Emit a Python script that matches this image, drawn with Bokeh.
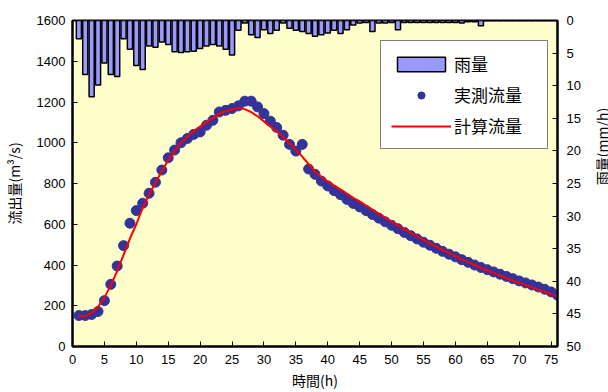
import math
from bokeh.plotting import figure
from bokeh.layouts import row
from bokeh.models import Range1d, LinearAxis, FixedTicker, Legend, LegendItem, Label
from bokeh.embed import file_html
from bokeh.resources import INLINE

hours = list(range(1, 77))
rain = [2.8, 8.3, 11.7, 9.9, 6.5, 8.3, 8.6, 2.8, 4.4, 6.9,
        7.5, 3.9, 4.1, 3.3, 3.7, 4.8, 4.9, 4.8, 4.7, 4.3,
        3.9, 3.7, 3.9, 4.4, 5.3, 1.5, 0.4, 2.2, 2.6, 1.4,
        2.0, 1.5, 0.4, 1.2, 1.5, 1.7, 2.0, 2.4, 2.2, 1.9,
        1.5, 2.0, 1.4, 0.7, 0.4, 0.3, 1.7, 0.4, 0.4, 0.3,
        1.4, 0.3, 0.3, 0.3, 0.3, 0.3, 0.3, 0.3, 0.3, 0.3,
        0.4, 0.2, 0.2, 0.8, 0.0, 0.0, 0.0, 0.0, 0.0, 0.0,
        0.0, 0.0, 0.0, 0.0, 0.0, 0.0]
observed = [152, 152, 157, 172, 225, 305, 395, 495, 605, 667,
            703, 752, 806, 866, 926, 964, 1000, 1021, 1041, 1053,
            1086, 1110, 1151, 1159, 1168, 1181, 1204, 1204, 1176, 1143,
            1106, 1075, 1037, 992, 959, 992, 871, 845, 812, 788,
            765, 745, 722, 702, 685, 667, 648, 630, 612, 595,
            578, 560, 544, 528, 512, 497, 482, 467, 453, 440,
            426, 413, 400, 388, 377, 366, 355, 344, 333, 322,
            312, 302, 292, 281, 268, 252]
calculated = [150, 150, 165, 195, 240, 300, 370, 450, 530, 600,
              680, 745, 805, 860, 915, 960, 1000, 1030, 1058, 1080,
              1100, 1122, 1142, 1155, 1163, 1170, 1165, 1150, 1130, 1105,
              1080, 1055, 1028, 998, 965, 932, 895, 858, 832, 810,
              790, 770, 750, 730, 712, 692, 672, 652, 632, 612,
              594, 576, 558, 540, 523, 506, 490, 474, 458, 443,
              428, 414, 400, 386, 373, 360, 348, 336, 324, 312,
              301, 290, 279, 268, 257, 246]

x_ticks = list(range(0, 80, 5))
flow_ticks = list(range(0, 1800, 200))
rain_ticks = list(range(0, 55, 5))

fig = figure(width=592, height=392, output_backend="svg", toolbar_location=None,
             x_range=Range1d(0, 76), y_range=Range1d(0, 1600))
fig.min_border_left = 72
fig.min_border_right = 35
fig.min_border_top = 20
fig.min_border_bottom = 45
fig.background_fill_color = "#FFFFCC"
fig.border_fill_color = "white"
fig.outline_line_color = "black"
fig.outline_line_width = 2
fig.xgrid.visible = False
fig.ygrid.visible = False

fig.extra_y_ranges = {"rain": Range1d(50, 0)}

bars = fig.vbar(x=hours, top=rain, bottom=0, width=0.8, y_range_name="rain",
                fill_color="#9999FF", line_color="black", line_width=1.5)
dots = fig.scatter(x=hours, y=observed, size=10, fill_color="#333399",
                   line_color="#333399")
line = fig.line(x=hours, y=calculated, line_color="#FF0000", line_width=2)

tick_font = "Liberation Sans"
jp_font = "Noto Sans CJK JP"

def style_axis(ax, ticks):
    ax.ticker = FixedTicker(ticks=ticks)
    ax.minor_tick_line_color = None
    ax.major_tick_in = 5
    ax.major_tick_out = 0
    ax.major_tick_line_color = "black"
    ax.major_tick_line_width = 1
    ax.axis_line_color = "black"
    ax.axis_line_width = 2
    ax.major_label_text_font = tick_font
    ax.major_label_text_font_size = "13px"
    ax.major_label_text_color = "black"
    ax.axis_label_text_font = jp_font
    ax.axis_label_text_font_size = "14px"
    ax.axis_label_text_font_style = "normal"
    ax.axis_label_text_color = "black"

xa = fig.xaxis[0]
style_axis(xa, x_ticks)
xa.axis_label = "時間(h)"
xa.major_label_standoff = 8
xa.axis_label_standoff = 3

ya = fig.yaxis[0]
style_axis(ya, flow_ticks)
ya.axis_label = "流出量(m³/s)"
ya.major_label_standoff = 7
ya.axis_label_standoff = 10

ra = LinearAxis(y_range_name="rain")
style_axis(ra, rain_ticks)
ra.major_label_standoff = 9
fig.add_layout(ra, "right")

legend = Legend(items=[LegendItem(label="雨量", renderers=[bars]),
                       LegendItem(label="実測流量", renderers=[dots]),
                       LegendItem(label="計算流量", renderers=[line])],
                location=(308, 197))
legend.label_text_font = jp_font
legend.label_text_font_size = "17px"
legend.label_text_color = "black"
legend.glyph_width = 60
legend.glyph_height = 18
legend.label_height = 20
legend.label_width = 83
legend.label_standoff = 3
legend.spacing = 6
legend.padding = 10
legend.margin = 0
legend.border_line_color = "black"
legend.border_line_width = 1
legend.background_fill_color = "white"
legend.background_fill_alpha = 1.0
fig.add_layout(legend, "center")

# narrow strip holding the right-hand axis title, reading bottom to top
side = figure(width=16, height=392, output_backend="svg", toolbar_location=None,
              x_range=Range1d(0, 1), y_range=Range1d(0, 1),
              x_axis_location=None, y_axis_location=None)
side.min_border = 0
side.min_border_left = 0
side.min_border_right = 0
side.min_border_top = 0
side.min_border_bottom = 0
side.outline_line_color = None
side.background_fill_color = "white"
side.border_fill_color = "white"
side.xgrid.visible = False
side.ygrid.visible = False
side.add_layout(Label(x=9, y=200, x_units="screen", y_units="screen",
                      text="雨量(mm/h)", angle=math.pi / 2,
                      text_align="center", text_baseline="middle",
                      text_font=jp_font, text_font_size="14px",
                      text_color="black"))

p = row(fig, side, spacing=0)

open("out.html", "w").write(file_html(p, INLINE))
